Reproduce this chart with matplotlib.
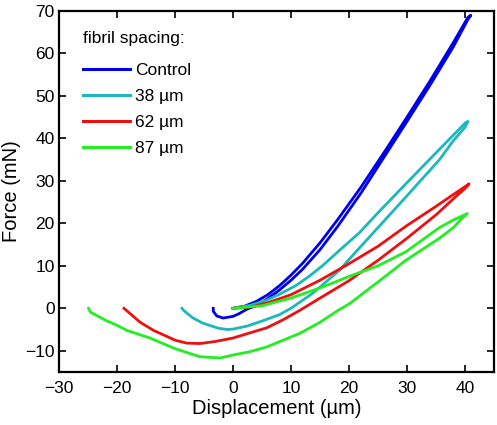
import matplotlib
matplotlib.use("Agg")
import matplotlib.pyplot as plt

plt.rcParams['font.family'] = ['Liberation Sans', 'DejaVu Sans']

# Control: loading (0,0)->tip then unloading back to end
control_x = [0, 2, 4, 6, 8, 10, 12, 15, 18, 22, 26, 30, 34, 38, 40.5, 41,
             40.5, 38, 34, 30, 26, 22, 18, 15, 12, 10, 8, 6, 4, 2.4, 1, 0, -1.7, -2.8, -3.4, -3.4]
control_y = [0, 0.5, 1.6, 3.2, 5.3, 7.8, 10.6, 15.4, 20.8, 28.4, 36.6, 45, 53.6, 62.6, 68.5, 69,
             68, 61.6, 52.6, 44, 35.5, 27, 19.2, 13.8, 9.2, 6.6, 4.3, 2.3, 0.6, -0.2, -1.3, -1.9, -2.3, -1.8, -0.7, 0]

c38_x = [0, 3, 5.8, 8, 10.9, 13, 15.5, 18.4, 21.8, 25, 29.8, 33, 36, 40.1, 40.5,
         40, 38, 35.6, 30, 25, 20, 18.4, 15, 13.7, 10, 8, 5, 2.4, 0, -1, -2.5, -5.2, -7, -8.5, -8.8]
c38_y = [0, 0.7, 1.9, 3.3, 5.4, 7.4, 10.1, 13.7, 17.8, 22.5, 29.3, 33.8, 38, 43.7, 44,
         42.6, 39.5, 35, 26.5, 19, 11.5, 9, 5, 3.5, 0, -1.5, -3, -4.2, -4.9, -5, -4.7, -3.5, -2.2, -0.5, 0]

c62_x = [0, 3, 6, 10, 15, 20, 25, 30, 35, 38, 40.4, 40.7,
         40, 38, 35, 30, 25, 20, 15, 11.5, 8.5, 5.8, 2.4, 0, -3, -5.7, -8, -10, -13.7, -16, -18.8]
c62_y = [0, 0.3, 1.3, 3.2, 6.6, 10.5, 14.6, 19.5, 24, 26.8, 29, 29.3,
         28.2, 25.8, 22, 16.5, 11.3, 6.5, 2.4, -0.5, -2.8, -4.6, -6, -7, -7.8, -8.3, -8.2, -7.5, -5.2, -3.3, 0]

c87_x = [0, 5, 10, 15, 18.4, 20, 25, 29.8, 35.6, 38, 40.4,
         39.5, 38, 35.6, 29.8, 25, 20.1, 18, 15, 11.5, 8.5, 5.8, 3, 0, -2.2, -5.7, -10, -14.3, -18.3, -20, -22, -24.6, -24.9]
c87_y = [0, 0.6, 2.4, 4.8, 6.6, 7.5, 10, 13.3, 19, 20.8, 22.3,
         21.2, 19, 16.5, 11.3, 6.2, 1.1, -0.6, -3.3, -5.9, -7.6, -9.1, -10.2, -11, -11.7, -11.4, -9.5, -7.0, -5.2, -4, -2.8, -0.9, 0]

labels = ['Control', '38 µm', '62 µm', '87 µm']
colors = ['#0000E8', '#1CB8BC', '#EE1010', '#22EE22']
legend_title = 'fibril spacing:'
x_ticks = [-30, -20, -10, 0, 10, 20, 30, 40]
y_ticks = [-10, 0, 10, 20, 30, 40, 50, 60, 70]

fig = plt.figure(figsize=(4.97, 4.25), dpi=100)
ax = fig.add_axes([59/497, 1-372/425, (494-59)/497, (372-11)/425])

series = [(control_x, control_y), (c38_x, c38_y), (c62_x, c62_y), (c87_x, c87_y)]
for (xs, ys), lab, col in zip(series, labels, colors):
    ax.plot(xs, ys, color=col, lw=2.0, label=lab, solid_joinstyle='round')

ax.set_xlim(-30, 45)
ax.set_ylim(-15, 70)
ax.set_xticks(x_ticks)
ax.set_yticks(y_ticks)
ax.tick_params(direction='in', top=True, right=True, length=5, width=1.2, labelsize=12.5)
ax.tick_params(axis='x', pad=6.5)
ax.tick_params(axis='y', pad=3)
for s in ax.spines.values():
    s.set_linewidth(1.6)

ax.set_xlabel('Displacement (µm)', fontsize=14.5, labelpad=2)
ax.set_ylabel('Force (mN)', fontsize=14.5, labelpad=3)

fig.text(83/497, 1-38/425, legend_title, fontsize=12.5, ha='left', va='center')
leg = ax.legend(loc='upper left', bbox_to_anchor=(83/497, 1-63/425), bbox_transform=fig.transFigure,
                frameon=False, fontsize=12.5, handlelength=2.7, borderpad=0,
                handletextpad=0.3, labelspacing=0.62, borderaxespad=0)
for l in leg.get_lines():
    l.set_linewidth(2.2)

fig.savefig('out.png', dpi=100)
